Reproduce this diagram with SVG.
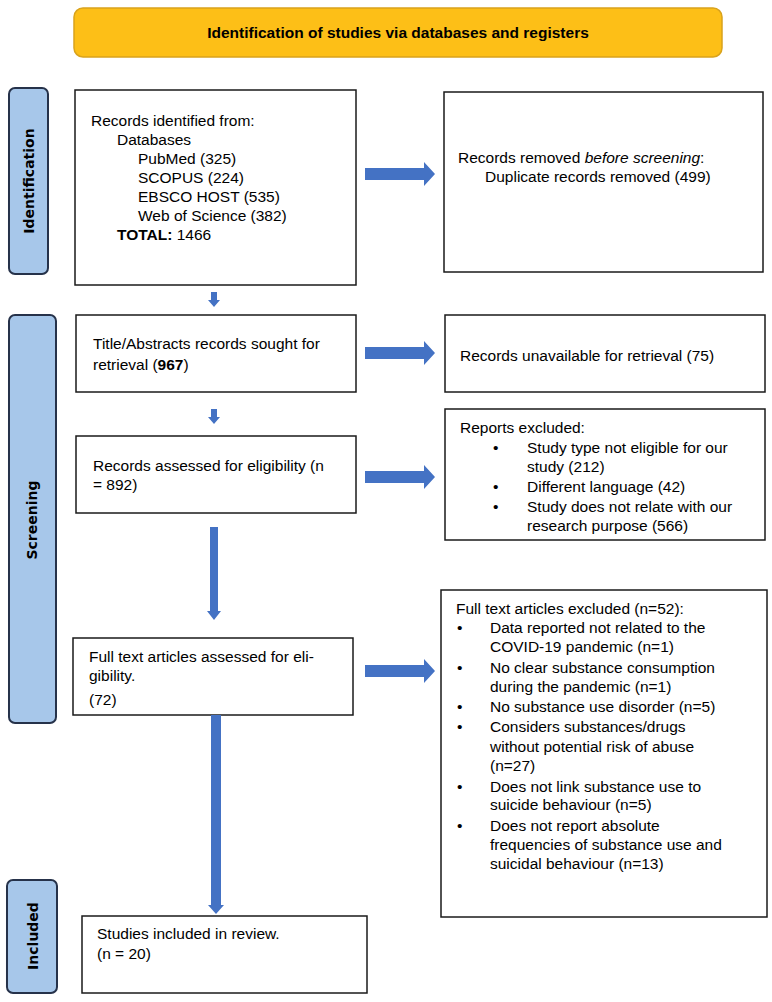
<svg xmlns="http://www.w3.org/2000/svg" width="772" height="1002" viewBox="0 0 772 1002">
<style>
.box{fill:#fff;stroke:#1a1a1a;stroke-width:1.5}
.tab{fill:#a7c7ea;stroke:#26324a;stroke-width:2}
.t{font-family:"Liberation Sans",Arial,sans-serif;font-size:15.5px;fill:#000}
.tl{font-family:"DejaVu Sans",sans-serif;font-weight:bold;font-size:14px;fill:#000}
.arr{fill:#4472c4}
</style>
<rect width="772" height="1002" fill="#fff"/>
<g id="header">
<rect x="74" y="8" width="648" height="49" rx="9" fill="#fdbf17" stroke="#d9a31c" stroke-width="1.5"/>
<text x="398" y="38" text-anchor="middle" class="t" font-weight="bold" font-size="15px">Identification of studies via databases and registers</text>
</g>
<g id="tab-identification">
<rect class="tab" x="9" y="88" width="39" height="186" rx="6"/>
<text class="tl" transform="translate(34,181) rotate(-90)" text-anchor="middle">Identification</text>
</g>
<g id="tab-screening">
<rect class="tab" x="9" y="315" width="47" height="408" rx="6"/>
<text class="tl" transform="translate(37,520) rotate(-90)" text-anchor="middle">Screening</text>
</g>
<g id="tab-included">
<rect class="tab" x="7" y="880" width="50" height="113" rx="6"/>
<text class="tl" transform="translate(38,936) rotate(-90)" text-anchor="middle">Included</text>
</g>
<g id="records-identified">
<rect class="box" x="75" y="90" width="281" height="195"/>
<text class="t"><tspan x="91" y="126">Records identified from:</tspan><tspan x="117" y="145">Databases</tspan><tspan x="138" y="164">PubMed (325)</tspan><tspan x="138" y="183">SCOPUS (224)</tspan><tspan x="138" y="202">EBSCO HOST (535)</tspan><tspan x="138" y="221">Web of Science (382)</tspan><tspan x="117" y="240"><tspan font-weight="bold">TOTAL:</tspan> 1466</tspan></text>
</g>
<g id="records-removed">
<rect class="box" x="444" y="92" width="319" height="180"/>
<text class="t"><tspan x="458" y="163">Records removed <tspan font-style="italic">before screening</tspan>:</tspan><tspan x="485" y="182">Duplicate records removed (499)</tspan></text>
</g>
<g id="title-abstracts">
<rect class="box" x="76" y="315" width="280" height="77"/>
<text class="t"><tspan x="93" y="349">Title/Abstracts records sought for</tspan><tspan x="93" y="370">retrieval (<tspan font-weight="bold">967</tspan>)</tspan></text>
</g>
<g id="records-unavailable">
<rect class="box" x="445" y="315" width="320" height="77"/>
<text class="t" x="460" y="361">Records unavailable for retrieval (75)</text>
</g>
<g id="records-assessed">
<rect class="box" x="76" y="436" width="280" height="77"/>
<text class="t"><tspan x="93" y="471">Records assessed for eligibility (n</tspan><tspan x="93" y="490">= 892)</tspan></text>
</g>
<g id="reports-excluded">
<rect class="box" x="445" y="409" width="320" height="131"/>
<text class="t"><tspan x="460" y="433">Reports excluded:</tspan>
<tspan x="493" y="453">•</tspan><tspan x="527" y="453">Study type not eligible for our</tspan><tspan x="527" y="472">study (212)</tspan>
<tspan x="493" y="492">•</tspan><tspan x="527" y="492">Different language (42)</tspan>
<tspan x="493" y="512">•</tspan><tspan x="527" y="512">Study does not relate with our</tspan><tspan x="527" y="531">research purpose (566)</tspan></text>
</g>
<g id="full-text-assessed">
<rect class="box" x="73" y="638" width="280" height="77"/>
<text class="t"><tspan x="89" y="662">Full text articles assessed for eli-</tspan><tspan x="89" y="681">gibility.</tspan><tspan x="89" y="705">(72)</tspan></text>
</g>
<g id="full-text-excluded">
<rect class="box" x="441" y="590" width="326" height="327"/>
<text class="t"><tspan x="456" y="614">Full text articles excluded (n=52):</tspan>
<tspan x="457" y="633">•</tspan><tspan x="490" y="633">Data reported not related to the</tspan><tspan x="490" y="652">COVID-19 pandemic (n=1)</tspan>
<tspan x="457" y="673">•</tspan><tspan x="490" y="673">No clear substance consumption</tspan><tspan x="490" y="692">during the pandemic (n=1)</tspan>
<tspan x="457" y="712">•</tspan><tspan x="490" y="712">No substance use disorder (n=5)</tspan>
<tspan x="457" y="732">•</tspan><tspan x="490" y="732">Considers substances/drugs</tspan><tspan x="490" y="752">without potential risk of abuse</tspan><tspan x="490" y="771">(n=27)</tspan>
<tspan x="457" y="792">•</tspan><tspan x="490" y="792">Does not link substance use to</tspan><tspan x="490" y="810">suicide behaviour (n=5)</tspan>
<tspan x="457" y="831">•</tspan><tspan x="490" y="831">Does not report absolute</tspan><tspan x="490" y="850">frequencies of substance use and</tspan><tspan x="490" y="869">suicidal behaviour (n=13)</tspan></text>
</g>
<g id="studies-included">
<rect class="box" x="82" y="916" width="285" height="77"/>
<text class="t"><tspan x="97" y="939">Studies included in review.</tspan><tspan x="97" y="959">(n = 20)</tspan></text>
</g>
<g id="connectors">
<path class="arr" d="M365,168 H424 V162 L435,174 L424,186 V180 H365 Z"/>
<path class="arr" d="M365,347 H424 V341 L435,353 L424,365 V359 H365 Z"/>
<path class="arr" d="M365,471 H424 V465 L435,477 L424,489 V483 H365 Z"/>
<path class="arr" d="M365,665 H424 V659 L435,671 L424,683 V677 H365 Z"/>
<path class="arr" d="M211,292 H217 V300 H220 L214,307 L208,300 H211 Z"/>
<path class="arr" d="M211,409 H217 V417 H220 L214,424 L208,417 H211 Z"/>
<path class="arr" d="M210,527 H218 V611 H221 L214,620 L207,611 H210 Z"/>
<path class="arr" d="M211,715 H221 V905 H224 L216,914 L208,905 H211 Z"/>
</g>
</svg>
